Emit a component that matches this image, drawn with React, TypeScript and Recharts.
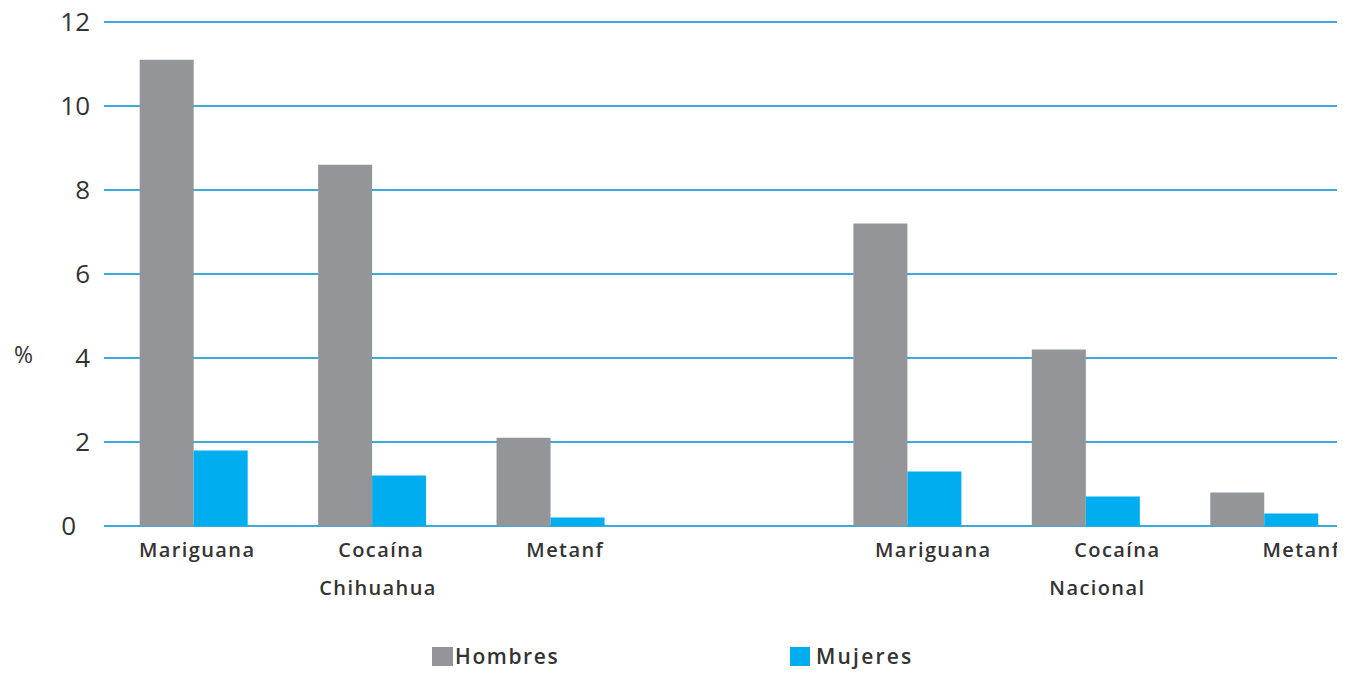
import { BarChart, Bar, XAxis, YAxis, CartesianGrid, Legend } from "recharts";

const categories = ["Mariguana", "Cocaína", "Metanf", "", "Mariguana", "Cocaína", "Metanf"];
const groupLabels = ["", "Chihuahua", "", "", "", "Nacional", ""];
const hombres = [11.1, 8.6, 2.1, null, 7.2, 4.2, 0.8];
const mujeres = [1.8, 1.2, 0.2, null, 1.3, 0.7, 0.3];
const yTicks = [0, 2, 4, 6, 8, 10, 12];

const GRAY = "#939598";
const BLUE = "#00adee";
const GRID = "#3aa9dc";
const TEXT = "#333333";
const FONT = "'Open Sans', sans-serif";

const data = categories.map((c, i) => ({
  id: `c${i}`,
  name: c,
  group: groupLabels[i],
  hombres: hombres[i],
  mujeres: mujeres[i],
}));

// labels in the original drift slightly right of the bars
const CategoryTick = (props: any) => {
  const { x, y, index } = props;
  const row = data[index];
  if (!row) return null;
  const style = { fill: TEXT, fontSize: 20, fontFamily: FONT, fontWeight: 600, letterSpacing: 1.4 };
  return (
    <g>
      <text x={x + 4 + 5.6 * index} y={y + 31} textAnchor="middle" {...style}>
        {row.name}
      </text>
      {row.group && (
        <text x={x + 5 + 1.4 * index} y={y + 69} textAnchor="middle" {...style}>
          {row.group}
        </text>
      )}
    </g>
  );
};

const ValueTick = (props: any) => {
  const { x, y, payload } = props;
  const shift = payload.value === 0 ? -14 : 0;
  return (
    <text x={x + shift} y={y} dy={9} textAnchor="end" fill={TEXT} fontSize={26} fontFamily={FONT}>
      {payload.value}
    </text>
  );
};

const LegendBox = () => (
  <div style={{ position: "relative", height: 34, fontFamily: FONT, fontSize: 21, fontWeight: 600, color: TEXT }}>
    <div style={{ position: "absolute", left: 424, top: 2, display: "flex", alignItems: "center" }}>
      <span style={{ width: 21, height: 19, background: GRAY, display: "inline-block", marginRight: 2 }} />
      <span style={{ letterSpacing: 1.6 }}>Hombres</span>
    </div>
    <div style={{ position: "absolute", left: 782, top: 2, display: "flex", alignItems: "center" }}>
      <span style={{ width: 20, height: 19, background: BLUE, display: "inline-block", marginRight: 6 }} />
      <span style={{ letterSpacing: 2.2 }}>Mujeres</span>
    </div>
  </div>
);

export default function App() {
  return (
    <div style={{ width: 1345, height: 666 }}>
      <style>{"html{overflow:hidden}"}</style>
      <BarChart
        width={1345}
        height={666}
        data={data}
        margin={{ top: 14, right: 0, left: 0, bottom: 0 }}
        barCategoryGap="20%"
        barGap={0}
      >
        <CartesianGrid horizontal vertical={false} stroke={GRID} strokeWidth={2} />
        <XAxis
          dataKey="id"
          axisLine={false}
          tickLine={false}
          tickSize={0}
          tickMargin={0}
          height={114}
          interval={0}
          tick={<CategoryTick />}
        />
        <YAxis
          domain={[0, 12]}
          ticks={yTicks}
          width={96}
          axisLine={false}
          tickLine={false}
          tickMargin={8}
          tick={<ValueTick />}
          label={{ value: "%", position: "insideLeft", offset: 6, dy: 81, fill: TEXT, fontSize: 23, fontFamily: FONT }}
        />
        <Legend verticalAlign="bottom" content={<LegendBox />} wrapperStyle={{ left: 0, width: 1345 }} />
        <Bar dataKey="hombres" name="Hombres" fill={GRAY} isAnimationActive={false} />
        <Bar dataKey="mujeres" name="Mujeres" fill={BLUE} isAnimationActive={false} />
      </BarChart>
    </div>
  );
}
